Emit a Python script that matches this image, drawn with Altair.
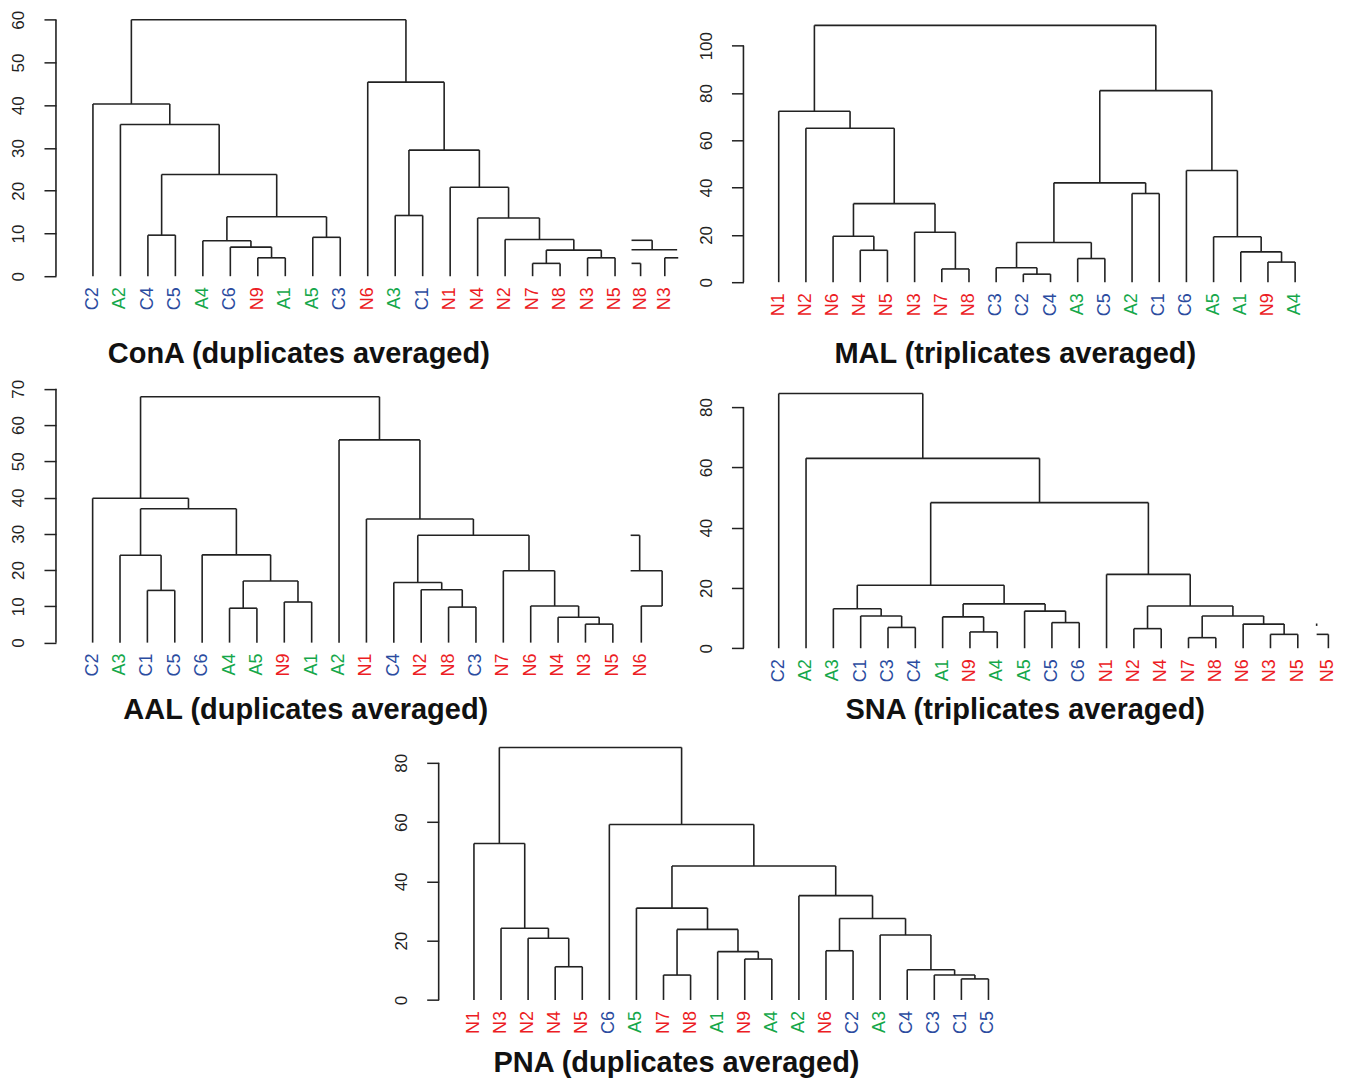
import altair as alt
import pandas as pd

# ---------------- data ----------------
# trees: [merge height, left, right] ; leaves are sample names
cona_tree = [60.0,
             [40.3, "C2", [35.5, "A2", [23.8, [9.6, "C4", "C5"],
                                        [13.9, [8.3, "A4", [6.8, "C6", [4.3, "N9", "A1"]]],
                                         [9.1, "A5", "C3"]]]]],
             [45.4, "N6", [29.5, [14.2, "A3", "C1"],
                           [20.8, "N1", [13.6, "N4", [8.6, "N2",
                                                      [6.1, [3.0, "N7", "N8"], [4.3, "N3", "N5"]]]]]]]]
cona_ticks = [0, 10, 20, 30, 40, 50, 60]
cona_frag_labels = ["N8", "N3"]
cona_frag_pos = [19.93, 20.81]
cona_frag_segs = [(19.6, 8.4, 20.35, 8.4), (20.35, 8.4, 20.35, 6.2), (19.6, 6.2, 21.26, 6.2),
                  (19.6, 3.0, 19.93, 3.0), (19.93, 3.0, 19.93, 0.0),
                  (20.81, 4.3, 21.3, 4.3), (20.81, 4.3, 20.81, 0.0)]

mal_tree = [108.6,
            [72.3, "N1", [65.1, "N2", [33.2, [19.4, "N6", [13.5, "N4", "N5"]],
                                       [21.1, "N3", [5.6, "N7", "N8"]]]]],
            [81.0,
             [42.0, [16.8, [6.1, "C3", [3.4, "C2", "C4"]], [10.0, "A3", "C5"]], [37.5, "A2", "C1"]],
             [47.2, "C6", [19.2, "A5", [12.8, "A1", [8.5, "N9", "A4"]]]]]]
mal_ticks = [0, 20, 40, 60, 80, 100]

aal_tree = [67.8,
            [39.8, "C2", [36.9, [24.1, "A3", [14.4, "C1", "C5"]],
                          [24.2, "C6", [17.0, [9.5, "A4", "A5"], [11.2, "N9", "A1"]]]]],
            [55.9, "A2", [34.1, "N1", [29.6, [16.6, "C4", [14.6, "N2", [9.8, "N8", "C3"]]],
                                       [19.8, "N7", [10.1, "N6", [7.0, "N4", [5.1, "N3", "N5"]]]]]]]]
aal_ticks = [0, 10, 20, 30, 40, 50, 60, 70]
aal_frag_labels = ["N6"]
aal_frag_pos = [20.04]
aal_frag_segs = [(19.65, 29.6, 19.98, 29.6), (19.98, 29.6, 19.98, 19.8), (19.65, 19.8, 20.8, 19.8),
                 (20.8, 19.8, 20.8, 10.1), (20.04, 10.1, 20.8, 10.1), (20.04, 10.1, 20.04, 0.0)]

sna_tree = [84.5, "C2",
            [63.0, "A2",
             [48.3,
              [20.9, [13.1, "A3", [10.7, "C1", [6.9, "C3", "C4"]]],
               [14.7, [10.4, "A1", [5.4, "N9", "A4"]], [12.3, "A5", [8.5, "C5", "C6"]]]],
              [24.5, "N1", [14.0, [6.5, "N2", "N4"],
                            [10.7, [3.5, "N7", "N8"], [8.0, "N6", [4.6, "N3", "N5"]]]]]]]]
sna_ticks = [0, 20, 40, 60, 80]
sna_frag_labels = ["N5"]
sna_frag_pos = [20.12]
sna_frag_segs = [(19.69, 4.6, 20.12, 4.6), (20.12, 4.6, 20.12, 0.0), (19.69, 8.2, 19.69, 7.4)]

pna_tree = [85.2,
            [52.8, "N1", [24.2, "N3", [20.8, "N2", [11.2, "N4", "N5"]]]],
            [59.2, "C6",
             [45.2,
              [31.0, "A5", [23.8, [8.4, "N7", "N8"], [16.3, "A1", [13.8, "N9", "A4"]]]],
              [35.2, "A2", [27.5, [16.6, "N6", "C2"],
                            [21.9, "A3", [10.2, "C4", [8.4, "C3", [7.1, "C1", "C5"]]]]]]]]]
pna_ticks = [0, 20, 40, 60, 80]

titles = ["ConA (duplicates averaged)", "MAL (triplicates averaged)",
          "AAL (duplicates averaged)", "SNA (triplicates averaged)",
          "PNA (duplicates averaged)"]

group_domain = ["C", "A", "N"]
group_colors = ["#2B4C9F", "#15A74A", "#EC1C24"]

LINE = "#222222"
FONT = "Liberation Sans"


def layout(tree):
    leaves, segs = [], []

    def rec(node):
        if isinstance(node, str):
            x = len(leaves)
            leaves.append(node)
            return float(x), 0.0
        h, a, b = node
        xa, ha = rec(a)
        xb, hb = rec(b)
        segs.append((xa, ha, xa, h))
        segs.append((xb, hb, xb, h))
        segs.append((xa, h, xb, h))
        return (xa + xb) / 2.0, h

    rec(tree)
    return leaves, segs


def panel(tree, ticks, title, geo, title_xy, frag_segs=(), frag_labels=(), frag_pos=(),
          anchor=False, axis_x=0):
    L, T, W, H, x0, step, y0, k = geo
    xdom = [(L - x0) / step, (L + W - x0) / step]
    ydom = [(y0 - (T + H)) / k, (y0 - T) / k]

    leaves, segs = layout(tree)
    segs = list(segs) + list(frag_segs)
    seg_df = pd.DataFrame(segs, columns=["x", "y", "x2", "y2"])

    names = list(leaves) + list(frag_labels)
    pos = list(range(len(leaves))) + list(frag_pos)
    lab_df = pd.DataFrame({"x": pos, "y": [0.0] * len(names), "name": names,
                           "grp": [n[0] for n in names]})

    X = alt.X("x:Q", scale=alt.Scale(domain=xdom, nice=False, zero=False), axis=None)
    Y = alt.Y("y:Q", scale=alt.Scale(domain=ydom, nice=False, zero=False),
              axis=alt.Axis(values=ticks, domain=False, grid=False, ticks=True, tickSize=12,
                            tickColor=LINE, tickWidth=1.5, labelAngle=270, labelAlign="center",
                            labelBaseline="bottom", labelPadding=16, labelFontSize=17,
                            labelColor="#222222", labelFont=FONT, title=None,
                            offset=-axis_x))

    lines = alt.Chart(seg_df).mark_rule(color=LINE, strokeWidth=1.6).encode(
        x=X, y=Y, x2="x2:Q", y2="y2:Q")

    dom_df = pd.DataFrame({"y": [float(ticks[0])], "y2": [float(ticks[-1])]})
    dom = alt.Chart(dom_df).mark_rule(color=LINE, strokeWidth=1.6).encode(
        x=alt.value(axis_x), y=Y, y2="y2:Q")

    labels = alt.Chart(lab_df).mark_text(angle=270, align="right", baseline="middle", dx=-11,
                                         fontSize=18, font=FONT).encode(
        x=X, y=Y, text="name:N",
        color=alt.Color("grp:N", scale=alt.Scale(domain=group_domain, range=group_colors), legend=None))

    tdf = pd.DataFrame({"t": [title]})
    ttl = alt.Chart(tdf).mark_text(fontSize=29, fontWeight="bold", font=FONT, color="#111111",
                                   align="center", baseline="middle").encode(
        x=alt.value(title_xy[0] - L), y=alt.value(title_xy[1] - T), text="t:N")

    layers = [lines, dom, labels, ttl]
    if anchor:
        adf = pd.DataFrame({"a": [0]})
        anc = alt.Chart(adf).mark_rule(color="white", strokeWidth=1).encode(
            x=alt.value(8 - L), x2=alt.value(9 - L), y=alt.value(8 - T), y2=alt.value(9 - T))
        layers.append(anc)
    return alt.layer(*layers).properties(width=W, height=H)


# geometry: plot left, top, width, height, leaf0 px, leaf step, zero px, px per unit
geo_cona = (55, 10, 640, 273, 92.0, 27.5, 275.0, 4.278)
geo_mal = (743, 10, 590, 273, 778.3, 27.2, 281.0, 2.367)
geo_aal = (55, 372, 640, 278, 91.7, 27.4, 641.7, 3.629)
geo_sna = (743, 372, 590, 278, 778.3, 27.34, 647.3, 3.016)
geo_pna = (55, 739, 640, 264, 473.3, 27.1, 999.3, 2.966)

p_cona = panel(cona_tree, cona_ticks, titles[0], geo_cona, (298, 353),
               cona_frag_segs, cona_frag_labels, cona_frag_pos, anchor=True)
p_mal = panel(mal_tree, mal_ticks, titles[1], geo_mal, (1015, 353))
p_aal = panel(aal_tree, aal_ticks, titles[2], geo_aal, (305, 709),
              aal_frag_segs, aal_frag_labels, aal_frag_pos)
p_sna = panel(sna_tree, sna_ticks, titles[3], geo_sna, (1025, 709),
              sna_frag_segs, sna_frag_labels, sna_frag_pos)
p_pna = panel(pna_tree, pna_ticks, titles[4], geo_pna, (676, 1062), axis_x=383)

chart = alt.concat(p_cona, p_mal, p_aal, p_sna, p_pna, columns=2,
                   spacing={"row": 89, "column": 48}, align="none", bounds="flush",
                   padding=0, background="white").configure_view(strokeWidth=0)

chart.save("out.html", embed_options={"renderer": "svg", "actions": False})
